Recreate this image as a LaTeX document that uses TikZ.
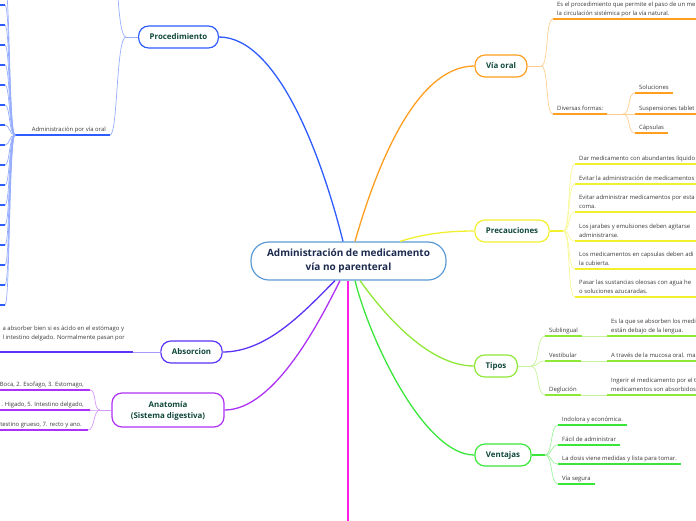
\documentclass[tikz,border=0pt]{standalone}
\usepackage{fontspec}
\setmainfont{Open Sans}
\usetikzlibrary{calc}

\definecolor{azul}{HTML}{2E5CFF}
\definecolor{naranja}{HTML}{FF9E1F}
\definecolor{amarillo}{HTML}{F2F02E}
\definecolor{lima}{HTML}{8EE836}
\definecolor{verde}{HTML}{3BE63B}
\definecolor{rosa}{HTML}{FF1FE6}
\definecolor{morado}{HTML}{AE32F5}
\definecolor{indigo}{HTML}{5B33F5}
\definecolor{celeste}{HTML}{5B9BD5}
\definecolor{titulo}{HTML}{10483B}
\definecolor{marino}{HTML}{1B2A4E}
\definecolor{gris}{HTML}{3A3A3A}

\tikzset{
  tema/.style={draw=#1, line width=1.2pt, rounded corners=10pt, fill=white,
    text=titulo, font=\fontsize{7.9}{10}\selectfont\bfseries,
    minimum height=22pt, inner xsep=11pt, align=center},
  hoja/.style={text=gris, font=\fontsize{5.9}{9}\selectfont, align=left,
    inner xsep=4pt, inner ysep=2.5pt, text depth=1.2pt},
  rama/.style={draw=#1, line width=1.3pt},
  ramita/.style={draw=#1!50, line width=0.7pt},
  linea/.style={draw=#1, line width=1.4pt},
}

\begin{document}
\begin{tikzpicture}[x=1pt,y=-1pt]
        % Paso 1: Marco del dibujo y bordes
        \useasboundingbox (0,0) rectangle (696,520);
        \clip (0,0) rectangle (696,520);
        \coordinate (izq) at (-10,0);
        \coordinate (der) at (706,0);

        % Paso 2: Tema central y temas principales
        \node[tema=celeste, text=marino, font=\fontsize{10}{13.5}\selectfont\bfseries,
              minimum width=195pt, minimum height=38pt, rounded corners=18pt] (centro)
              at (348.5,261) {Administración de medicamento\\vía no parenteral};
        \node[tema=azul] (proc) at (178.5,37) {Procedimiento};
        \node[tema=naranja] (viaoral) at (501,66) {Vía oral};
        \node[tema=amarillo] (precau) at (512,231) {Precauciones};
        \node[tema=lima] (tipos) at (496,366) {Tipos};
        \node[tema=verde] (ventajas) at (503,455) {Ventajas};
        \node[tema=indigo] (absorcion) at (191.5,352) {Absorcion};
        \node[tema=morado, minimum width=112pt, minimum height=34pt, text depth=0pt,
              font=\fontsize{7.9}{11.5}\selectfont\bfseries] (anatomia) at (168,410)
              {Anatomía\\(Sistema digestiva)};
        \coordinate (fin) at (348,530);

        % Paso 3: Conecta el tema central con cada tema
        \draw[rama=azul] ([xshift=-5.5pt]centro.north) .. controls +(-20,-80) and +(60,0) .. (proc.east);
        \draw[rama=naranja] ([xshift=6.5pt]centro.north) .. controls +(20,-70) and +(-60,0) .. (viaoral.west);
        \draw[rama=amarillo] ([xshift=51.5pt]centro.north) .. controls +(25,-8) and +(-25,0) .. (precau.west);
        \draw[rama=lima] ([xshift=11.5pt]centro.south) .. controls +(25,35) and +(-45,0) .. (tipos.west);
        \draw[rama=verde] ([xshift=6.5pt]centro.south) .. controls +(15,60) and +(-50,0) .. (ventajas.west);
        \draw[rama=rosa] ([xshift=-0.5pt]centro.south) -- (fin);
        \draw[rama=morado] ([xshift=-8.5pt]centro.south) .. controls +(-20,40) and +(50,0) .. (anatomia.east);
        \draw[rama=indigo] ([xshift=-13.5pt]centro.south) .. controls +(-30,30) and +(45,0) .. (absorcion.east);

        % Paso 4: Ramas de Procedimiento
        \coordinate (procfork) at (126,37);
        \coordinate (procarriba) at (110,-60);
        \coordinate (abanico) at (15,135);
        \node[hoja, anchor=south east] (admoral) at (110,135) {Administración por vía oral};
        \draw[ramita=azul] (proc.west) -- (procfork);
        \draw[ramita=azul] (procfork) .. controls +(-10,0) and +(8,0) .. (procarriba);
        \draw[ramita=azul] (procfork) .. controls +(-10,0) and +(8,0) .. (admoral.south east);
        \draw[linea=azul] (admoral.south east) -- (admoral.south west) -- (abanico);
        \foreach \y [count=\i] in {-15,5,...,305} {
          \coordinate (hv\i) at (5,\y);
          \draw[ramita=azul] (abanico) .. controls +(-6,0) and +(5,0) .. (hv\i);
          \draw[linea=azul] (hv\i) -- (hv\i -| izq);
        }

        % Paso 5: Ramas de Vía oral
        \coordinate (vofork) at (541,66);
        \coordinate (formfork) at (623,114);
        \node[hoja, anchor=south west] (vo1) at (553,19)
              {Es el procedimiento que permite el paso de un me\\la circulación sistémica por la vía natural.};
        \node[hoja, anchor=south west] (vo2) at (553,114) {Diversas formas:};
        \node[hoja, anchor=south west] (sol) at (635,93) {Soluciones};
        \node[hoja, anchor=south west] (susp) at (635,114) {Suspensiones tablet};
        \node[hoja, anchor=south west] (caps) at (635,133) {Cápsulas};
        \draw[ramita=naranja] (viaoral.east) -- (vofork);
        \draw[ramita=naranja] (vofork) .. controls +(8,0) and +(-8,0) .. (vo1.south west);
        \draw[ramita=naranja] (vofork) .. controls +(8,0) and +(-8,0) .. (vo2.south west);
        \draw[linea=naranja] (vo1.south west) -- (vo1.south west -| der);
        \draw[linea=naranja] (vo2.south west) -- (vo2.south east);
        \draw[ramita=naranja] (vo2.south east) -- (formfork);
        \draw[ramita=naranja] (formfork) .. controls +(8,0) and +(-8,0) .. (sol.south west);
        \draw[ramita=naranja] (formfork) -- (susp.south west);
        \draw[ramita=naranja] (formfork) .. controls +(8,0) and +(-8,0) .. (caps.south west);
        \draw[linea=naranja] (sol.south west) -- (sol.south east);
        \draw[linea=naranja] (susp.south west) -- (susp.south west -| der);
        \draw[linea=naranja] (caps.south west) -- (caps.south east);

        % Paso 6: Ramas de Precauciones
        \coordinate (prefork) at (563,231);
        \node[hoja, anchor=south west] (p1) at (575,164) {Dar medicamento con abundantes líquido};
        \node[hoja, anchor=south west] (p2) at (575,184) {Evitar la administración de medicamentos};
        \node[hoja, anchor=south west] (p3) at (575,212) {Evitar administrar medicamentos por esta\\coma.};
        \node[hoja, anchor=south west] (p4) at (575,241) {Los jarabes y emulsiones deben agitarse\\administrarse.};
        \node[hoja, anchor=south west] (p5) at (575,269) {Los medicamentos en capsulas deben adi\\la cubierta.};
        \node[hoja, anchor=south west] (p6) at (575,297) {Pasar las sustancias oleosas con agua he\\o soluciones azucaradas.};
        \draw[linea=amarillo] (precau.east) -- (prefork);
        \foreach \p in {p1,p2,p3,p4,p5,p6} {
          \draw[ramita=amarillo] (prefork) .. controls +(8,0) and +(-8,0) .. (\p.south west);
          \draw[linea=amarillo] (\p.south west) -- (\p.south west -| der);
        }

        % Paso 7: Ramas de Tipos
        \coordinate (tipfork) at (531,366);
        \node[hoja, anchor=south west] (sub) at (545,336) {Sublingual};
        \node[hoja, anchor=south west] (ves) at (545,361) {Vestibular};
        \node[hoja, anchor=south west] (deg) at (545,395) {Deglución};
        \node[hoja, anchor=south west] (subd) at (607,336) {Es la que se absorben los medi\\están debajo de la lengua.};
        \node[hoja, anchor=south west] (vesd) at (607,361) {A través de la mucosa oral. ma};
        \node[hoja, anchor=south west] (degd) at (607,395) {Ingerir el medicamento por el t\\medicamentos son absorbidos};
        \draw[ramita=lima] (tipos.east) -- (tipfork);
        \foreach \t in {sub,ves,deg} {
          \draw[ramita=lima] (tipfork) .. controls +(9,0) and +(-9,0) .. (\t.south west);
          \draw[linea=lima] (\t.south west) -- (\t.south east);
          \draw[ramita=lima] (\t.south east) -- (\t d.south west);
          \draw[linea=lima] (\t d.south west) -- (\t d.south west -| der);
        }

        % Paso 8: Ramas de Ventajas
        \coordinate (venfork) at (545,455);
        \node[hoja, anchor=south west] (v1) at (558,425) {Indolora y económica.};
        \node[hoja, anchor=south west] (v2) at (558,445) {Fácil de administrar};
        \node[hoja, anchor=south west] (v3) at (558,464) {La dosis viene medidas y lista para tomar.};
        \node[hoja, anchor=south west] (v4) at (558,484) {Vía segura};
        \draw[linea=verde] (ventajas.east) -- (venfork);
        \foreach \v in {v1,v2,v3,v4} {
          \draw[ramita=verde] (venfork) .. controls +(8,0) and +(-8,0) .. (\v.south west);
          \draw[linea=verde] (\v.south west) -- (\v.south east);
        }

        % Paso 9: Rama de Absorcion
        \coordinate (abscorte) at (133,352);
        \node[hoja, anchor=south east] (abstexto) at (129,343)
              {a absorber bien si es ácido en el estómago y\\l intestino delgado. Normalmente pasan por};
        \draw[ramita=indigo] (absorcion.west) -- (abscorte);
        \draw[linea=indigo] (abscorte) -- (abscorte -| izq);

        % Paso 10: Ramas de Anatomía
        \coordinate (anafork) at (100,410);
        \node[hoja, anchor=south east] (an1) at (88,390) {Boca, 2. Esofago, 3. Estomago,};
        \node[hoja, anchor=south east] (an2) at (88,410) {. Higado, 5. Intestino delgado,};
        \node[hoja, anchor=south east] (an3) at (86,430) {testino grueso, 7. recto y ano.};
        \draw[ramita=morado] (anatomia.west) -- (anafork);
        \foreach \a in {an1,an2,an3} {
          \draw[ramita=morado] (anafork) .. controls +(-7,0) and +(7,0) .. ([xshift=2pt]\a.south east);
          \draw[linea=morado] ([xshift=2pt]\a.south east) -- (\a.south east -| izq);
        }
\end{tikzpicture}
\end{document}
